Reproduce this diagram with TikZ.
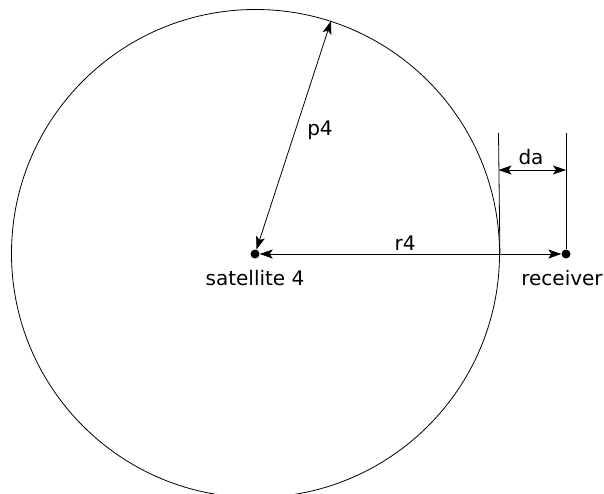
\documentclass[tikz,border=0pt]{standalone}
\usepackage{fontspec}
\setmainfont{DejaVu Sans}
\usetikzlibrary{arrows.meta,positioning}
\begin{document}
\begin{tikzpicture}[x=1pt,y=-1pt,
  font=\fontsize{20}{24}\selectfont,
  punto/.style={circle,fill=black,inner sep=0pt,minimum size=9pt},
  orbita/.style={circle,draw=black,line width=0.8pt,inner sep=0pt,minimum size=488pt},
  cota/.style={line width=0.8pt},
  doble/.style={{Stealth[length=13pt,width=9pt,inset=3pt]}-{Stealth[length=13pt,width=9pt,inset=3pt]},line width=0.8pt}]
\clip (0,0) rectangle (604,494);
\node[orbita] (orbita) at (255.5,253.5) {};
\node[punto] (sat) at (255,254) {};
\node[punto] (rec) at (566,254) {};
\node (etsat) at (255,278) {satellite 4};
\node (etrec) at (562,278) {receiver};
\coordinate (topA) at (498.5,133);
\coordinate (topB) at (566,133);
\coordinate (daA) at (498.5,170);
\coordinate (daB) at (566,170);
\draw[doble] (sat) -- (orbita.72);
\draw[doble] (sat) -- (rec);
\draw[cota] (orbita.east) -- (topA);
\draw[cota] (rec) -- (topB);
\draw[doble] (daA) -- (daB);
\node (p) at (320,130) {p4};
\node (r) at (405,243) {r4};
\node (da) at (531,157) {da};
\end{tikzpicture}
\end{document}
